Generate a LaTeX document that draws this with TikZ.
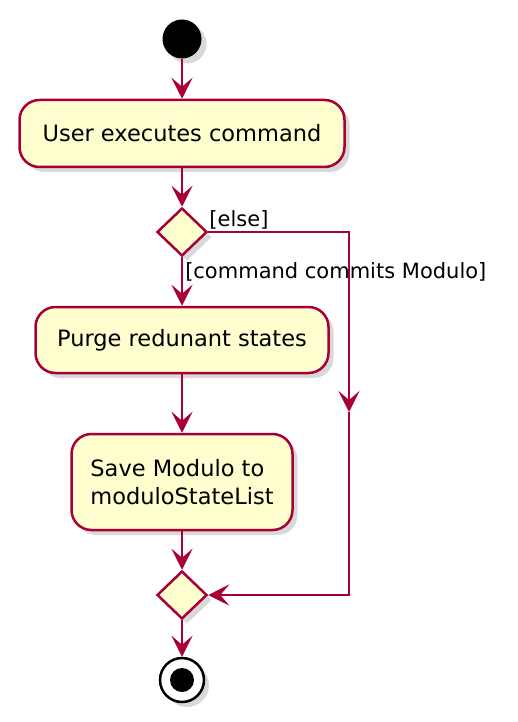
\documentclass[tikz,border=0pt]{standalone}
\usepackage{fontspec}
\setmainfont{DejaVu Sans}
\usetikzlibrary{arrows.meta,shapes.geometric,shadows,positioning}
\definecolor{umlred}{HTML}{A80036}
\definecolor{umlfill}{HTML}{FEFECE}

\begin{document}
\begin{tikzpicture}[x=1pt,y=-1pt,
		shade/.style={drop shadow={shadow xshift=5pt,shadow yshift=-5pt,opacity=.3}},
		act/.style={draw=umlred,fill=umlfill,line width=2.5pt,rounded corners=20pt,shade,inner sep=0pt,font=\fontsize{22.5}{28}\selectfont},
		dec/.style={diamond,draw=umlred,fill=umlfill,line width=2.5pt,shade,inner sep=0pt,minimum width=50pt,minimum height=48pt},
		flow/.style={umlred,line width=2.5pt,-{Stealth[length=21pt,width=21pt,inset=9pt]}},
		guard/.style={text=black,font=\fontsize{21}{25}\selectfont,inner sep=0pt}]
	\useasboundingbox (0,0) rectangle (518,722);
	\node[circle,fill=black,minimum size=39pt,inner sep=0pt,shade] (start) at (182,39) {};
	\node[act,minimum width=325pt,minimum height=67pt] (user) at (182,133.5) {User executes command};
	\node[dec] (choice) at (182,232) {};
	\node[act,minimum width=293pt,minimum height=66pt] (purge) at (182,340) {Purge redunant states};
	\node[act,minimum width=221pt,minimum height=96pt,align=left] (save) at (182,482) {Save Modulo to\\moduloStateList};
	\node[dec] (merge) at (182,595) {};
	\node[circle,draw=black,fill=white,line width=2.5pt,minimum size=44pt,inner sep=0pt,shade] (stop) at (182,680) {};
	\fill (stop) circle (12pt);
	% else branch
	\coordinate (elsetop) at (349,232);
	\coordinate (elsemid) at (349,412);
	\coordinate (elsebot) at (349,595);
	\draw[flow] (start) -- (user);
	\draw[flow] (user) -- (choice);
	\draw[flow] (choice) -- (purge) node[guard,pos=.3,anchor=west,xshift=2pt] {[command commits Modulo]};
	\draw[flow] (purge) -- (save);
	\draw[flow] (save) -- (merge);
	\draw[flow] (merge) -- (stop);
	\draw[flow] (choice.east) -- (elsetop) -- (elsemid);
	\draw[flow] (elsemid) -- (elsebot) -- (merge.east);
	\node[guard,anchor=south west] at ([xshift=1pt,yshift=3pt]choice.east) {[else]};
\end{tikzpicture}
\end{document}
